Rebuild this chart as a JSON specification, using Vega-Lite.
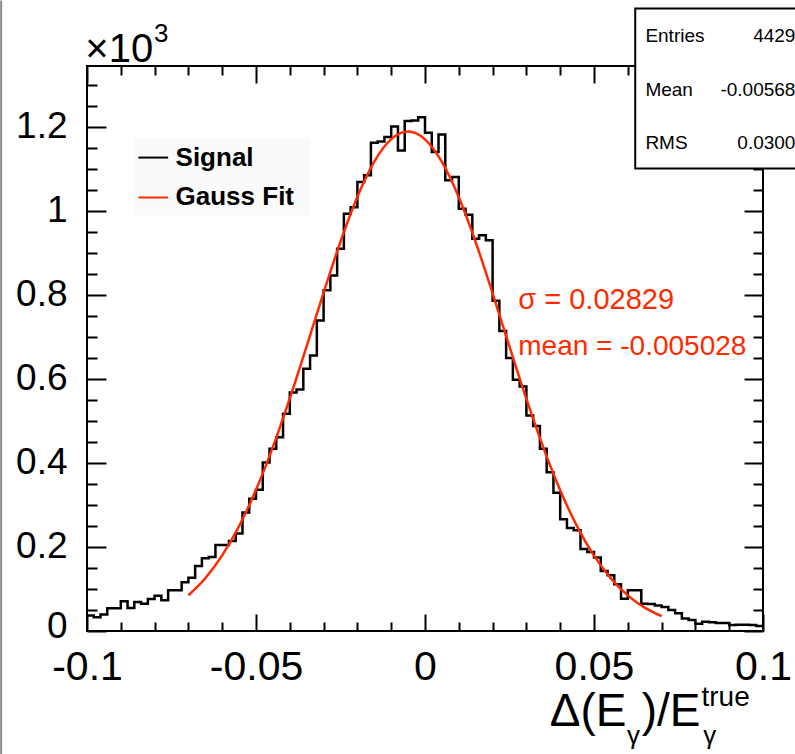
{
  "$schema": "https://vega.github.io/schema/vega-lite/v6.json",
  "width": 676,
  "height": 565,
  "autosize": {"type": "none"},
  "padding": {"left": 87, "top": 66, "right": 32, "bottom": 123},
  "background": "white",
  "config": {
    "view": {"stroke": "black", "strokeWidth": 2},
    "axis": {"domain": false, "grid": false, "tickColor": "black", "tickWidth": 2, "labelColor": "black", "labelFont": "Liberation Sans", "title": null}
  },
  "datasets": {
    "hist": [
      {"x": -0.100, "count": 37}, {"x": -0.098, "count": 33}, {"x": -0.096, "count": 39}, {"x": -0.094, "count": 54}, {"x": -0.092, "count": 54},
      {"x": -0.090, "count": 71}, {"x": -0.088, "count": 55}, {"x": -0.086, "count": 69}, {"x": -0.084, "count": 65}, {"x": -0.082, "count": 76},
      {"x": -0.080, "count": 84}, {"x": -0.078, "count": 73}, {"x": -0.076, "count": 97}, {"x": -0.074, "count": 97}, {"x": -0.072, "count": 116},
      {"x": -0.070, "count": 127}, {"x": -0.068, "count": 155}, {"x": -0.066, "count": 173}, {"x": -0.064, "count": 176}, {"x": -0.062, "count": 205},
      {"x": -0.060, "count": 205}, {"x": -0.058, "count": 214}, {"x": -0.056, "count": 232}, {"x": -0.054, "count": 282}, {"x": -0.052, "count": 315},
      {"x": -0.050, "count": 336}, {"x": -0.048, "count": 401}, {"x": -0.046, "count": 434}, {"x": -0.044, "count": 461}, {"x": -0.042, "count": 517},
      {"x": -0.040, "count": 568}, {"x": -0.038, "count": 575}, {"x": -0.036, "count": 624}, {"x": -0.034, "count": 656}, {"x": -0.032, "count": 739},
      {"x": -0.030, "count": 811}, {"x": -0.028, "count": 846}, {"x": -0.026, "count": 910}, {"x": -0.024, "count": 993}, {"x": -0.022, "count": 1009},
      {"x": -0.020, "count": 1069}, {"x": -0.018, "count": 1085}, {"x": -0.016, "count": 1162}, {"x": -0.014, "count": 1165}, {"x": -0.012, "count": 1176},
      {"x": -0.010, "count": 1201}, {"x": -0.008, "count": 1144}, {"x": -0.006, "count": 1214}, {"x": -0.004, "count": 1215}, {"x": -0.002, "count": 1223},
      {"x": 0.000, "count": 1186}, {"x": 0.002, "count": 1140}, {"x": 0.004, "count": 1182}, {"x": 0.006, "count": 1073}, {"x": 0.008, "count": 1081},
      {"x": 0.010, "count": 1005}, {"x": 0.012, "count": 991}, {"x": 0.014, "count": 934}, {"x": 0.016, "count": 942}, {"x": 0.018, "count": 930},
      {"x": 0.020, "count": 786}, {"x": 0.022, "count": 714}, {"x": 0.024, "count": 650}, {"x": 0.026, "count": 598}, {"x": 0.028, "count": 582},
      {"x": 0.030, "count": 513}, {"x": 0.032, "count": 488}, {"x": 0.034, "count": 434}, {"x": 0.036, "count": 378}, {"x": 0.038, "count": 329},
      {"x": 0.040, "count": 266}, {"x": 0.042, "count": 245}, {"x": 0.044, "count": 240}, {"x": 0.046, "count": 195}, {"x": 0.048, "count": 188},
      {"x": 0.050, "count": 175}, {"x": 0.052, "count": 143}, {"x": 0.054, "count": 133}, {"x": 0.056, "count": 111}, {"x": 0.058, "count": 77},
      {"x": 0.060, "count": 97}, {"x": 0.062, "count": 97}, {"x": 0.064, "count": 65}, {"x": 0.066, "count": 64}, {"x": 0.068, "count": 61},
      {"x": 0.070, "count": 57}, {"x": 0.072, "count": 50}, {"x": 0.074, "count": 42}, {"x": 0.076, "count": 30}, {"x": 0.078, "count": 26},
      {"x": 0.080, "count": 17}, {"x": 0.082, "count": 22}, {"x": 0.084, "count": 21}, {"x": 0.086, "count": 19}, {"x": 0.088, "count": 19},
      {"x": 0.090, "count": 14}, {"x": 0.092, "count": 15}, {"x": 0.094, "count": 15}, {"x": 0.096, "count": 14}, {"x": 0.098, "count": 12},
      {"x": 0.100, "count": 12}
    ],
    "fit": [
      {"x": -0.070, "f": 85.1}, {"x": -0.065, "f": 125.7}, {"x": -0.060, "f": 180.0}, {"x": -0.055, "f": 249.8}, {"x": -0.050, "f": 336.1},
      {"x": -0.045, "f": 438.2}, {"x": -0.040, "f": 553.8}, {"x": -0.035, "f": 678.3}, {"x": -0.030, "f": 805.4}, {"x": -0.025, "f": 926.7},
      {"x": -0.020, "f": 1033.7}, {"x": -0.015, "f": 1117.4}, {"x": -0.010, "f": 1170.8}, {"x": -0.005, "f": 1189.0}, {"x": 0.000, "f": 1170.4},
      {"x": 0.005, "f": 1116.6}, {"x": 0.010, "f": 1032.5}, {"x": 0.015, "f": 925.4}, {"x": 0.020, "f": 803.9}, {"x": 0.025, "f": 676.9},
      {"x": 0.030, "f": 552.4}, {"x": 0.035, "f": 437.0}, {"x": 0.040, "f": 335.0}, {"x": 0.045, "f": 249.0}, {"x": 0.050, "f": 179.3},
      {"x": 0.055, "f": 125.2}, {"x": 0.060, "f": 84.7}, {"x": 0.065, "f": 55.5}, {"x": 0.070, "f": 35.3}
    ],
    "one": [{}]
  },
  "resolve": {"axis": {"x": "independent", "y": "independent"}},
  "layer": [
    {
      "data": {"name": "hist"},
      "mark": {"type": "line", "interpolate": "step-after", "color": "black", "strokeWidth": 2.5},
      "encoding": {
        "x": {"field": "x", "type": "quantitative", "scale": {"domain": [-0.1, 0.1], "nice": false, "zero": false},
              "axis": {"orient": "bottom", "values": [-0.1, -0.05, 0, 0.05, 0.1], "tickSize": -17, "labelPadding": 33, "labelFontSize": 41, "labelFlush": false, "labelOverlap": false, "labelExpr": "datum.value == 0 ? '0' : (datum.value < 0 ? '-' : '') + format(abs(datum.value), '~g')"}},
        "y": {"field": "count", "type": "quantitative", "scale": {"domain": [0, 1345], "nice": false},
              "axis": {"orient": "left", "values": [0, 200, 400, 600, 800, 1000, 1200], "tickSize": -19, "labelPadding": 39, "labelFontSize": 37, "labelExpr": "datum.value / 1000", "labelOverlap": false, "labelFlush": false,
                       "labelOffset": {"condition": {"test": "datum.value == 0", "value": -5}, "value": 0}}}
      }
    },
    {
      "data": {"name": "hist"},
      "mark": {"type": "line", "interpolate": "step-after", "strokeOpacity": 0},
      "encoding": {
        "x": {"field": "x", "type": "quantitative", "axis": {"orient": "bottom", "values": [-0.09, -0.08, -0.07, -0.06, -0.04, -0.03, -0.02, -0.01, 0.01, 0.02, 0.03, 0.04, 0.06, 0.07, 0.08, 0.09], "tickSize": -9, "labels": false}},
        "y": {"field": "count", "type": "quantitative", "axis": {"orient": "left", "values": [50, 100, 150, 250, 300, 350, 450, 500, 550, 650, 700, 750, 850, 900, 950, 1050, 1100, 1150, 1250, 1300], "tickSize": -10, "labels": false}}
      }
    },
    {
      "data": {"name": "hist"},
      "mark": {"type": "line", "interpolate": "step-after", "strokeOpacity": 0},
      "encoding": {
        "x": {"field": "x", "type": "quantitative", "axis": {"orient": "top", "values": [-0.1, -0.05, 0, 0.05, 0.1], "tickSize": -17, "labels": false}},
        "y": {"field": "count", "type": "quantitative", "axis": {"orient": "right", "values": [0, 200, 400, 600, 800, 1000, 1200], "tickSize": -19, "labels": false}}
      }
    },
    {
      "data": {"name": "hist"},
      "mark": {"type": "line", "interpolate": "step-after", "strokeOpacity": 0},
      "encoding": {
        "x": {"field": "x", "type": "quantitative", "axis": {"orient": "top", "values": [-0.09, -0.08, -0.07, -0.06, -0.04, -0.03, -0.02, -0.01, 0.01, 0.02, 0.03, 0.04, 0.06, 0.07, 0.08, 0.09], "tickSize": -9, "labels": false}},
        "y": {"field": "count", "type": "quantitative", "axis": {"orient": "right", "values": [50, 100, 150, 250, 300, 350, 450, 500, 550, 650, 700, 750, 850, 900, 950, 1050, 1100, 1150, 1250, 1300], "tickSize": -10, "labels": false}}
      }
    },
    {
      "data": {"name": "fit"},
      "mark": {"type": "line", "interpolate": "monotone", "color": "#ff2a00", "strokeWidth": 2.5},
      "encoding": {
        "x": {"field": "x", "type": "quantitative", "axis": null},
        "y": {"field": "f", "type": "quantitative", "axis": null}
      }
    },
    {
      "data": {"name": "one"},
      "mark": {"type": "rule", "color": "#8a8a8a", "strokeWidth": 2, "clip": false},
      "encoding": {
        "x": {"datum": -0.1254, "type": "quantitative", "axis": null},
        "y": {"datum": 1501, "type": "quantitative", "axis": null}, "y2": {"datum": -294}
      }
    },
    {
      "data": {"name": "one"},
      "mark": {"type": "rect", "fill": "#fafafa", "clip": false},
      "encoding": {
        "x": {"datum": -0.0863, "type": "quantitative", "axis": null}, "x2": {"datum": -0.0338},
        "y": {"datum": 1175, "type": "quantitative", "axis": null}, "y2": {"datum": 989}
      }
    },
    {
      "data": {"name": "one"},
      "mark": {"type": "rule", "color": "black", "strokeWidth": 2},
      "encoding": {
        "x": {"datum": -0.0848, "type": "quantitative", "axis": null}, "x2": {"datum": -0.0760},
        "y": {"datum": 1127, "type": "quantitative", "axis": null}
      }
    },
    {
      "data": {"name": "one"},
      "mark": {"type": "rule", "color": "#ff2a00", "strokeWidth": 2},
      "encoding": {
        "x": {"datum": -0.0848, "type": "quantitative", "axis": null}, "x2": {"datum": -0.0760},
        "y": {"datum": 1032, "type": "quantitative", "axis": null}
      }
    },
    {
      "data": {"name": "one"},
      "mark": {"type": "text", "text": "Signal", "font": "Liberation Sans", "fontWeight": "bold", "fontSize": 26, "align": "left", "baseline": "middle", "color": "black"},
      "encoding": {"x": {"datum": -0.0738, "type": "quantitative", "axis": null}, "y": {"datum": 1127, "type": "quantitative", "axis": null}}
    },
    {
      "data": {"name": "one"},
      "mark": {"type": "text", "text": "Gauss Fit", "font": "Liberation Sans", "fontWeight": "bold", "fontSize": 26, "align": "left", "baseline": "middle", "color": "black"},
      "encoding": {"x": {"datum": -0.0738, "type": "quantitative", "axis": null}, "y": {"datum": 1032, "type": "quantitative", "axis": null}}
    },
    {
      "data": {"name": "one"},
      "mark": {"type": "text", "text": "σ = 0.02829", "font": "Liberation Sans", "fontSize": 29, "align": "left", "baseline": "middle", "color": "#ff2a00"},
      "encoding": {"x": {"datum": 0.0276, "type": "quantitative", "axis": null}, "y": {"datum": 787, "type": "quantitative", "axis": null}}
    },
    {
      "data": {"name": "one"},
      "mark": {"type": "text", "text": "mean = -0.005028", "font": "Liberation Sans", "fontSize": 28, "align": "left", "baseline": "middle", "color": "#ff2a00"},
      "encoding": {"x": {"datum": 0.0276, "type": "quantitative", "axis": null}, "y": {"datum": 675, "type": "quantitative", "axis": null}}
    },
    {
      "data": {"name": "one"},
      "mark": {"type": "rect", "fill": "white", "stroke": "black", "strokeWidth": 2, "clip": false},
      "encoding": {
        "x": {"datum": 0.0622, "type": "quantitative", "axis": null}, "x2": {"datum": 0.12},
        "y": {"datum": 1482, "type": "quantitative", "axis": null}, "y2": {"datum": 1101}
      }
    },
    {
      "data": {"values": [{"label": "Entries", "value": "4429", "row": 1416}, {"label": "Mean", "value": "-0.00568", "row": 1287}, {"label": "RMS", "value": "0.0300", "row": 1161}]},
      "layer": [
        {
          "mark": {"type": "text", "font": "Liberation Sans", "fontSize": 19, "align": "left", "baseline": "middle", "color": "black"},
          "encoding": {"x": {"datum": 0.0652, "type": "quantitative", "axis": null}, "y": {"field": "row", "type": "quantitative", "axis": null}, "text": {"field": "label"}}
        },
        {
          "mark": {"type": "text", "font": "Liberation Sans", "fontSize": 19, "align": "right", "baseline": "middle", "color": "black"},
          "encoding": {"x": {"datum": 0.1096, "type": "quantitative", "axis": null}, "y": {"field": "row", "type": "quantitative", "axis": null}, "text": {"field": "value"}}
        }
      ]
    },
    {
      "data": {"name": "one"},
      "mark": {"type": "text", "text": "×10", "font": "Liberation Sans", "fontSize": 40, "align": "left", "baseline": "alphabetic", "color": "black"},
      "encoding": {"x": {"datum": -0.1005, "type": "quantitative", "axis": null}, "y": {"datum": 1354, "type": "quantitative", "axis": null}}
    },
    {
      "data": {"name": "one"},
      "mark": {"type": "text", "text": "3", "font": "Liberation Sans", "fontSize": 26, "align": "left", "baseline": "alphabetic", "color": "black"},
      "encoding": {"x": {"datum": -0.0802, "type": "quantitative", "axis": null}, "y": {"datum": 1401, "type": "quantitative", "axis": null}}
    },
    {
      "data": {"name": "one"},
      "mark": {"type": "text", "text": "Δ(E", "font": "Liberation Sans", "fontSize": 46, "align": "right", "baseline": "alphabetic", "color": "black"},
      "encoding": {"x": {"datum": 0.0596, "type": "quantitative", "axis": null}, "y": {"datum": -225, "type": "quantitative", "axis": null}}
    },
    {
      "data": {"name": "one"},
      "mark": {"type": "text", "text": "γ", "font": "Liberation Sans", "fontSize": 26, "align": "left", "baseline": "alphabetic", "color": "black"},
      "encoding": {"x": {"datum": 0.0598, "type": "quantitative", "axis": null}, "y": {"datum": -268, "type": "quantitative", "axis": null}}
    },
    {
      "data": {"name": "one"},
      "mark": {"type": "text", "text": ")/E", "font": "Liberation Sans", "fontSize": 46, "align": "left", "baseline": "alphabetic", "color": "black"},
      "encoding": {"x": {"datum": 0.0641, "type": "quantitative", "axis": null}, "y": {"datum": -225, "type": "quantitative", "axis": null}}
    },
    {
      "data": {"name": "one"},
      "mark": {"type": "text", "text": "γ", "font": "Liberation Sans", "fontSize": 26, "align": "left", "baseline": "alphabetic", "color": "black"},
      "encoding": {"x": {"datum": 0.0823, "type": "quantitative", "axis": null}, "y": {"datum": -268, "type": "quantitative", "axis": null}}
    },
    {
      "data": {"name": "one"},
      "mark": {"type": "text", "text": "true", "font": "Liberation Sans", "fontSize": 28, "align": "left", "baseline": "alphabetic", "color": "black"},
      "encoding": {"x": {"datum": 0.0818, "type": "quantitative", "axis": null}, "y": {"datum": -178, "type": "quantitative", "axis": null}}
    }
  ]
}
